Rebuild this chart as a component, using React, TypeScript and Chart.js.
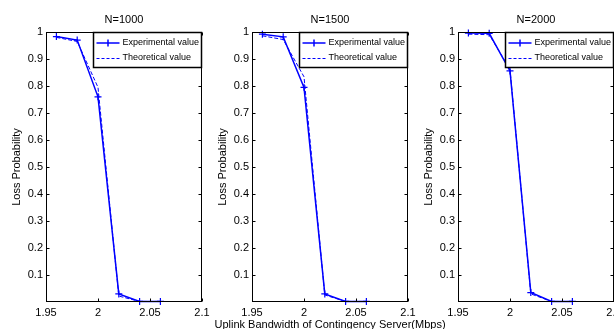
import React, { useEffect, useRef } from "react";
import { Chart, registerables } from "chart.js";

Chart.register(...registerables);

// ---- data ----
const xValues = [1.96, 1.98, 2.0, 2.02, 2.04, 2.06];
const panelTitles = ["N=1000", "N=1500", "N=2000"];

const experimental1000 = [0.983, 0.97, 0.76, 0.03, 0.002, 0.002];
const theoretical1000 = [0.98, 0.965, 0.795, 0.022, 0.002, 0.002];

const experimental1500 = [0.992, 0.982, 0.795, 0.03, 0.002, 0.002];
const theoretical1500 = [0.986, 0.972, 0.834, 0.026, 0.002, 0.002];

const experimental2000 = [0.996, 0.995, 0.856, 0.035, 0.002, 0.002];
const theoretical2000 = [0.992, 0.99, 0.862, 0.03, 0.002, 0.002];

const xTicks = [1.95, 2, 2.05, 2.1];
const yTicks = [0.1, 0.2, 0.3, 0.4, 0.5, 0.6, 0.7, 0.8, 0.9, 1];

const legendLabels = ["Experimental value", "Theoretical value"];
const xAxisTitle = "Uplink Bandwidth of Contingency Server(Mbps)";
const yAxisTitle = "Loss Probability";

const experimentalSeries = [experimental1000, experimental1500, experimental2000];
const theoreticalSeries = [theoretical1000, theoretical1500, theoretical2000];

// ---- layout ----
const FONT = "'Liberation Sans', Arial, sans-serif";
const W = 614;
const H = 329;
const AXIS_W = 46;
const PLOT_W = 156;
const TOP = 32;
const BOTTOM = 302;
const XAXIS_H = 20;
const CANVAS_W = 630;
const PANEL_STEP = 206;
const BLUE = "#0000ff";

function makeDecor(index: number) {
  return {
    id: "matlabDecor" + index,
    afterDraw(chart: any) {
      const ctx = chart.ctx as CanvasRenderingContext2D;
      const a = chart.chartArea;
      const xs = chart.scales.x;
      const ys = chart.scales.y;
      ctx.save();
      // frame
      ctx.strokeStyle = "#000";
      ctx.lineWidth = 1;
      const l = Math.round(a.left) + 0.5;
      const r = Math.round(a.right) - 0.5;
      const t = Math.round(a.top) + 0.5;
      const b = Math.round(a.bottom) - 0.5;
      ctx.strokeRect(l, t, r - l, b - t);
      // inward ticks
      ctx.beginPath();
      const tl = 3;
      xTicks.forEach((v) => {
        const p = Math.round(xs.getPixelForValue(v)) + 0.5;
        ctx.moveTo(p, b);
        ctx.lineTo(p, b - tl);
        ctx.moveTo(p, t);
        ctx.lineTo(p, t + tl);
      });
      yTicks.forEach((v) => {
        const p = Math.round(ys.getPixelForValue(v)) + 0.5;
        ctx.moveTo(l, p);
        ctx.lineTo(l + tl, p);
        ctx.moveTo(r, p);
        ctx.lineTo(r - tl, p);
      });
      ctx.stroke();

      // title
      ctx.fillStyle = "#000";
      ctx.font = "11px " + FONT;
      ctx.textAlign = "center";
      ctx.textBaseline = "middle";
      ctx.fillText(panelTitles[index], (a.left + a.right) / 2, 20);

      // y axis title
      ctx.save();
      ctx.translate(a.left - 29, (a.top + a.bottom) / 2);
      ctx.rotate(-Math.PI / 2);
      ctx.fillText(yAxisTitle, 0, 0);
      ctx.restore();

      // x axis title (shared, under the middle panel)
      if (index === 1) {
        ctx.fillText(xAxisTitle, (a.left + a.right) / 2, 325);
      }

      // legend box
      const bx0 = Math.round(a.left) + 47 + 0.5;
      const by0 = t;
      const bx1 = r;
      const by1 = 67.5;
      ctx.fillStyle = "#fff";
      ctx.fillRect(bx0, by0, bx1 - bx0, by1 - by0);
      ctx.save();
      ctx.beginPath();
      ctx.rect(bx0, by0, bx1 - bx0, by1 - by0);
      ctx.clip();
      const rows = [43, 58];
      // row 1: solid with cross marker
      ctx.strokeStyle = BLUE;
      ctx.lineWidth = 1.5;
      ctx.beginPath();
      ctx.moveTo(bx0 + 3, rows[0]);
      ctx.lineTo(bx0 + 26, rows[0]);
      const cx = bx0 + 14.5;
      ctx.moveTo(cx, rows[0] - 3.5);
      ctx.lineTo(cx, rows[0] + 3.5);
      ctx.stroke();
      // row 2: dashed
      ctx.lineWidth = 1;
      ctx.setLineDash([3, 2]);
      ctx.beginPath();
      ctx.moveTo(bx0 + 3, rows[1] + 0.5);
      ctx.lineTo(bx0 + 26, rows[1] + 0.5);
      ctx.stroke();
      ctx.setLineDash([]);
      ctx.fillStyle = "#000";
      ctx.font = "9px " + FONT;
      ctx.textAlign = "left";
      ctx.textBaseline = "middle";
      ctx.fillText(legendLabels[0], bx0 + 29, rows[0]);
      ctx.fillText(legendLabels[1], bx0 + 29, rows[1]);
      ctx.restore();
      ctx.strokeStyle = "#000";
      ctx.lineWidth = 1.5;
      ctx.strokeRect(bx0, by0, bx1 - bx0, by1 - by0);
      ctx.restore();
    },
  };
}

function Panel({ index }: { index: number }) {
  const ref = useRef<HTMLCanvasElement | null>(null);
  useEffect(() => {
    if (!ref.current) return;
    const exp = experimentalSeries[index];
    const theo = theoreticalSeries[index];
    const padLeft = index * PANEL_STEP;
    const chart = new Chart(ref.current, {
      type: "scatter",
      data: {
        datasets: [
          {
            label: legendLabels[0],
            data: xValues.map((x, i) => ({ x, y: exp[i] })),
            showLine: true,
            borderColor: BLUE,
            backgroundColor: BLUE,
            borderWidth: 1.5,
            pointStyle: "cross",
            pointRadius: 3.5,
            pointBorderWidth: 1.2,
            pointBorderColor: BLUE,
            tension: 0,
            clip: 6,
            order: 1,
          },
          {
            label: legendLabels[1],
            data: xValues.map((x, i) => ({ x, y: theo[i] })),
            showLine: true,
            borderColor: BLUE,
            backgroundColor: BLUE,
            borderWidth: 1,
            borderDash: [4, 2],
            pointRadius: 0,
            tension: 0,
            clip: 6,
            order: 2,
          },
        ],
      } as any,
      options: {
        responsive: false,
        animation: false,
        devicePixelRatio: 1,
        layout: {
          padding: {
            top: TOP,
            bottom: H - BOTTOM - XAXIS_H,
            left: padLeft,
            right: CANVAS_W - padLeft - AXIS_W - PLOT_W,
          },
        },
        plugins: {
          legend: { display: false },
          title: { display: false },
          tooltip: { enabled: false },
        },
        scales: {
          x: {
            type: "linear",
            min: 1.95,
            max: 2.1,
            afterBuildTicks: (s: any) => {
              s.ticks = xTicks.map((v) => ({ value: v }));
            },
            afterFit: (s: any) => {
              s.height = XAXIS_H;
            },
            grid: { display: false, drawTicks: false },
            border: { display: false },
            ticks: {
              padding: 4,
              color: "#000",
              font: { family: FONT, size: 11 },
              maxRotation: 0,
              autoSkip: false,
              callback: (v: any) => String(v),
            },
          },
          y: {
            type: "linear",
            min: 0,
            max: 1,
            afterBuildTicks: (s: any) => {
              s.ticks = yTicks.map((v) => ({ value: v }));
            },
            afterFit: (s: any) => {
              s.width = AXIS_W;
            },
            grid: { display: false, drawTicks: false },
            border: { display: false },
            ticks: {
              padding: 3,
              color: "#000",
              font: { family: FONT, size: 11 },
              autoSkip: false,
              callback: (v: any) => String(v),
            },
          },
        },
      } as any,
      plugins: [makeDecor(index)],
    });
    return () => chart.destroy();
  }, [index]);
  return (
    <canvas
      ref={ref}
      width={CANVAS_W}
      height={H}
      style={{
        position: "absolute",
        left: 0,
        top: 0,
        width: CANVAS_W,
        height: H,
      }}
    />
  );
}

export default function App() {
  return (
    <div
      style={{
        position: "fixed",
        left: 0,
        top: 0,
        width: W,
        height: H,
        overflow: "hidden",
        background: "#fff",
      }}
    >
      {[0, 1, 2].map((i) => (
        <Panel key={i} index={i} />
      ))}
    </div>
  );
}
